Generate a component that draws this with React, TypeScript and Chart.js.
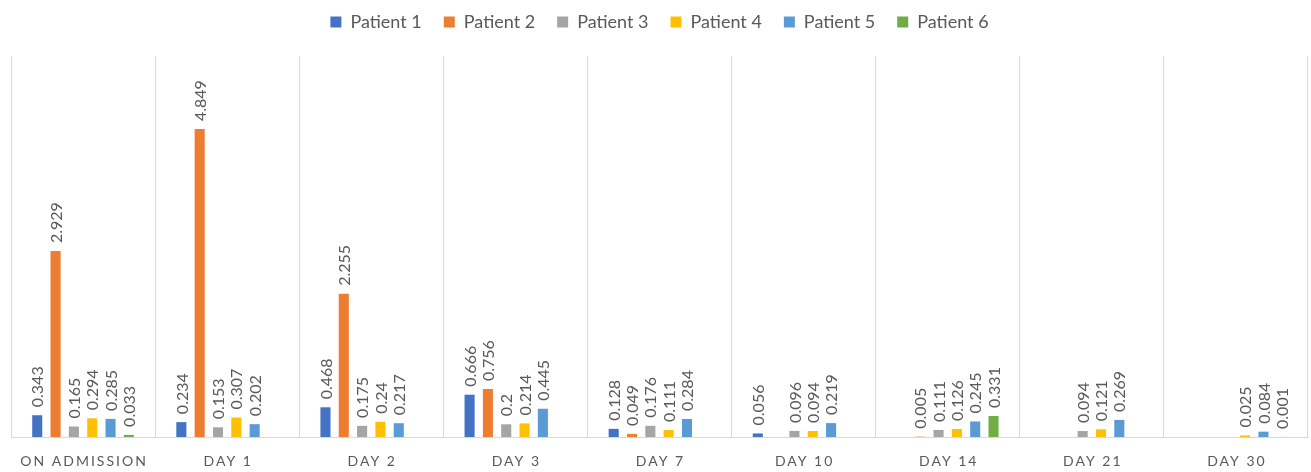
import React, { useEffect, useRef } from "react";
import { Chart, registerables } from "chart.js";

Chart.register(...registerables);

const categories = ["ON ADMISSION", "DAY 1", "DAY 2", "DAY 3", "DAY 7", "DAY 10", "DAY 14", "DAY 21", "DAY 30"];
const seriesNames = ["Patient 1", "Patient 2", "Patient 3", "Patient 4", "Patient 5", "Patient 6"];
const patient1 = [0.343, 0.234, 0.468, 0.666, 0.128, 0.056, null, null, null];
const patient2 = [2.929, 4.849, 2.255, 0.756, 0.049, null, 0.005, null, null];
const patient3 = [0.165, 0.153, 0.175, 0.2, 0.176, 0.096, 0.111, 0.094, null];
const patient4 = [0.294, 0.307, 0.24, 0.214, 0.111, 0.094, 0.126, 0.121, 0.025];
const patient5 = [0.285, 0.202, 0.217, 0.445, 0.284, 0.219, 0.245, 0.269, 0.084];
const patient6 = [0.033, null, null, null, null, null, 0.331, null, 0.001];
const seriesColors = ["#4472C4", "#ED7D31", "#A5A5A5", "#FFC000", "#5B9BD5", "#70AD47"];

const TEXT = "#595959";
const FONT = "Lato, 'Open Sans', sans-serif";

const labelPlugin = {
  id: "customLabels",
  afterDatasetsDraw(chart: any) {
    const ctx = chart.ctx;
    ctx.save();
    ctx.fillStyle = TEXT;
    ctx.font = `16px ${FONT}`;
    ctx.textAlign = "left";
    ctx.textBaseline = "middle";
    chart.data.datasets.forEach((ds: any, di: number) => {
      const meta = chart.getDatasetMeta(di);
      meta.data.forEach((el: any, i: number) => {
        const v = ds.data[i];
        if (v === null || v === undefined) return;
        ctx.save();
        ctx.translate(el.x, el.y - 8);
        ctx.rotate(-Math.PI / 2);
        ctx.fillText(String(v), 0, 1);
        ctx.restore();
      });
    });
    ctx.restore();
  },
  afterDraw(chart: any) {
    const ctx = chart.ctx;
    const xs = chart.scales.x;
    ctx.save();
    ctx.fillStyle = TEXT;
    ctx.font = `14px ${FONT}`;
    (ctx as any).letterSpacing = "2px";
    ctx.textAlign = "center";
    ctx.textBaseline = "middle";
    categories.forEach((c, i) => {
      const x = xs.getPixelForValue(i);
      ctx.fillText(c, x + 1, chart.chartArea.bottom + 24);
    });
    ctx.restore();
  },
};

export default function App() {
  const ref = useRef<HTMLCanvasElement | null>(null);
  useEffect(() => {
    document.body.style.margin = "0";
    const series = [patient1, patient2, patient3, patient4, patient5, patient6];
    const chart = new Chart(ref.current as HTMLCanvasElement, {
      type: "bar",
      data: {
        labels: categories,
        datasets: series.map((d, i) => ({
          label: seriesNames[i],
          data: d,
          backgroundColor: seriesColors[i],
          borderWidth: 0,
          categoryPercentage: 0.763,
          barPercentage: 0.55,
        })),
      },
      options: {
        animation: false,
        responsive: false,
        maintainAspectRatio: false,
        layout: { padding: { left: 11, right: 3, top: -9, bottom: 35 } },
        plugins: {
          legend: {
            position: "top",
            align: "center",
            labels: {
              boxWidth: 11,
              boxHeight: 11,
              padding: 22,
              color: TEXT,
              font: { family: FONT, size: 18 },
            },
          },
          subtitle: {
            display: true,
            text: "",
            weight: 500,
            font: { size: 15, lineHeight: 1 },
            padding: 0,
          },
          tooltip: { enabled: false },
        },
        scales: {
          x: {
            grid: { display: true, color: "#D9D9D9", offset: true, drawTicks: false },
            border: { display: true, color: "#D9D9D9" },
            ticks: { display: false },
          },
          y: {
            display: false,
            min: 0,
            max: 6,
          },
        },
      },
      plugins: [labelPlugin],
    });
    return () => chart.destroy();
  }, []);
  return (
    <div style={{ width: 1311, height: 472 }}>
      <canvas ref={ref} width={1311} height={472} />
    </div>
  );
}
